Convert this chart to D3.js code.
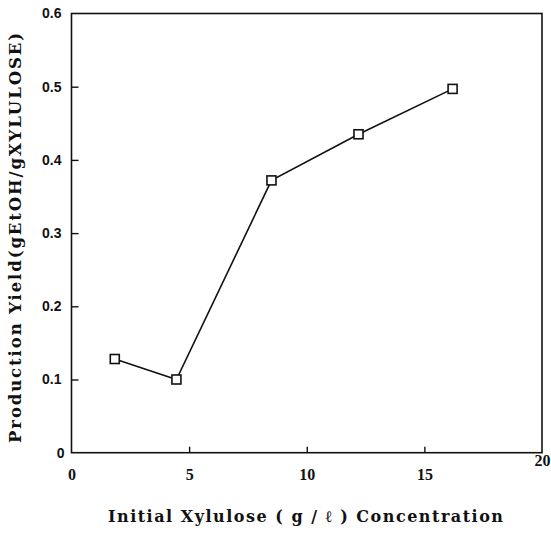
<!DOCTYPE html>
<html><head><meta charset="utf-8">
<script src="https://cdn.jsdelivr.net/npm/d3@7"></script>
<style>body{margin:0;background:#fff}</style>
</head><body>
<svg id="c" width="551" height="534"></svg>
<script>
const xValues = [1.84, 4.46, 8.5, 12.2, 16.2];
const yValues = [0.128, 0.100, 0.372, 0.435, 0.497];
const xTicks = [0, 5, 10, 15, 20];
const yTicks = [0, 0.1, 0.2, 0.3, 0.4, 0.5, 0.6];
const xTitle = "Initial Xylulose ( g / ℓ ) Concentration";
const yTitle = "Production Yield(gEtOH/gXYLULOSE)";

const svg = d3.select("#c");
const m = {l: 71.5, r: 542, t: 13.5, b: 452.7};
const x = d3.scaleLinear().domain([0, 20]).range([m.l, m.r]);
const y = d3.scaleLinear().domain([0, 0.6]).range([m.b, m.t]);
const ink = "#111";

// frame
svg.append("rect").attr("x", m.l).attr("y", m.t).attr("width", m.r - m.l).attr("height", m.b - m.t)
  .attr("fill", "none").attr("stroke", ink).attr("stroke-width", 1.6);

// axes with inward ticks
const xAxis = d3.axisBottom(x).tickValues(xTicks).tickSizeInner(-6).tickSizeOuter(0).tickFormat(d3.format("d"));
const gx = svg.append("g").attr("transform", `translate(0,${m.b})`).call(xAxis);
gx.select(".domain").remove();
gx.selectAll(".tick line").attr("stroke", ink).attr("stroke-width", 1.4);
gx.selectAll(".tick text").attr("fill", ink).style("font-family", "'Liberation Serif', serif")
  .style("font-size", "16px").style("font-weight", "bold")
  .attr("y", d => d === 20 ? 2 : 16);
gx.selectAll(".tick").filter(d => d === 0 || d === 20).select("line").remove();

const yAxis = d3.axisLeft(y).tickValues(yTicks).tickSizeInner(-7).tickSizeOuter(0)
  .tickFormat(d => d === 0 ? "0" : d3.format(".1f")(d));
const gy = svg.append("g").attr("transform", `translate(${m.l},0)`).call(yAxis);
gy.select(".domain").remove();
gy.selectAll(".tick line").attr("stroke", ink).attr("stroke-width", 1.4);
gy.selectAll(".tick text").attr("fill", ink).attr("x", d => d === 0 ? -7 : -10)
  .style("font-family", "'Liberation Sans', sans-serif")
  .style("font-size", "14px").style("font-weight", "bold");
gy.selectAll(".tick").filter(d => d === 0 || d === 0.6).select("line").remove();

// line
const pts = xValues.map((v, i) => [v, yValues[i]]);
svg.append("path").datum(pts)
  .attr("fill", "none").attr("stroke", ink).attr("stroke-width", 1.6)
  .attr("d", d3.line().x(d => x(d[0])).y(d => y(d[1])));

// square markers
svg.selectAll("rect.pt").data(pts).join("rect").attr("class", "pt")
  .attr("x", d => x(d[0]) - 4.5).attr("y", d => y(d[1]) - 4.5)
  .attr("width", 9).attr("height", 9)
  .attr("fill", "#fff").attr("stroke", ink).attr("stroke-width", 1.6);

// titles
svg.append("text").attr("x", 108).attr("y", 522).attr("text-anchor", "start")
  .attr("textLength", 395).attr("lengthAdjust", "spacing")
  .attr("fill", ink).style("font-family", "'DejaVu Serif', serif")
  .style("font-size", "16px").style("font-weight", "bold")
  .text(xTitle);
svg.append("text").attr("transform", "translate(21,443) rotate(-90)").attr("text-anchor", "start")
  .attr("textLength", 410).attr("lengthAdjust", "spacing")
  .attr("fill", ink).style("font-family", "'DejaVu Serif', serif")
  .style("font-size", "16.5px").style("font-weight", "bold")
  .text(yTitle);
</script>
</body></html>
